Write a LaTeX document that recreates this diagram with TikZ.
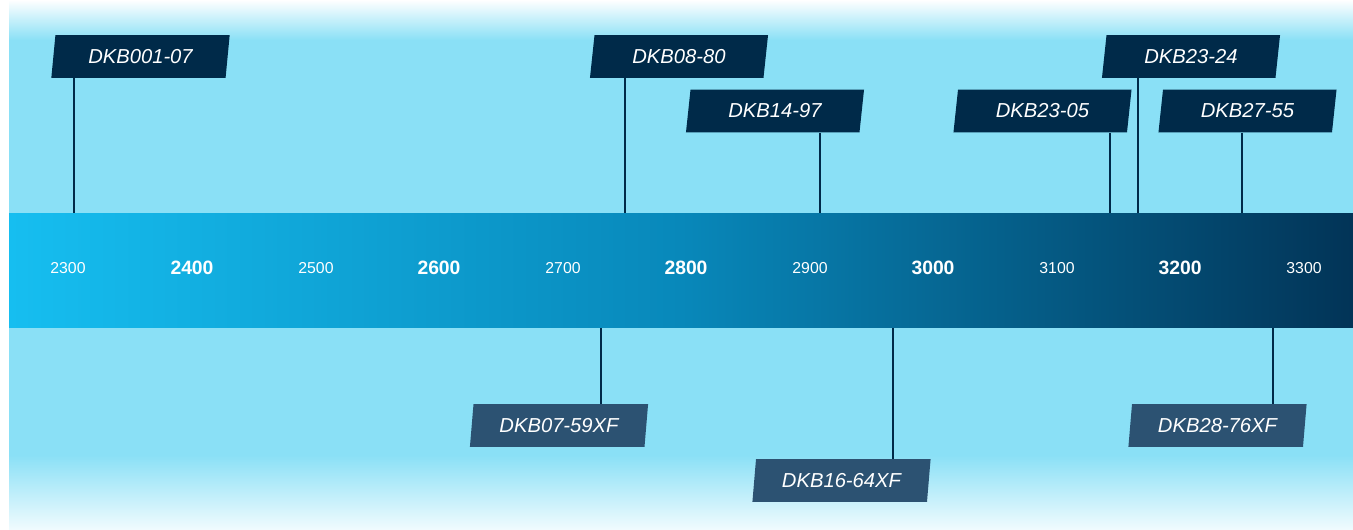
\documentclass[tikz,border=0pt]{standalone}
\usepackage{fontspec}
\setmainfont{Liberation Sans}
\usetikzlibrary{shapes.geometric}
\definecolor{bgblue}{RGB}{138,224,246}
\definecolor{topnavy}{RGB}{0,42,73}
\definecolor{botslate}{RGB}{44,82,114}
\definecolor{bandleft}{RGB}{22,190,240}
\definecolor{bandmid}{RGB}{8,136,186}
\definecolor{bandright}{RGB}{2,52,87}

\begin{document}
\begin{tikzpicture}[x = 0.02cm, y = -0.02cm]
\tikzstyle{TagStyle}=[shape = trapezium,
                      trapezium left angle = 80,
                      trapezium right angle = 100,
                      trapezium stretches = true,
                      minimum width = 3.58cm,
                      minimum height = 0.86cm,
                      inner sep = 0pt,
                      text = white,
                      font = \fontsize{11.5}{13}\selectfont\itshape]
\tikzstyle{TopTag}=[TagStyle, fill = topnavy]
\tikzstyle{LowTag}=[TagStyle, fill = botslate]
\tikzstyle{Stem}=[draw = topnavy, line width = 1.1pt]
\tikzstyle{Minor}=[text = white, font = \fontsize{9}{10}\selectfont]
\tikzstyle{Major}=[text = white, font = \fontsize{11}{12}\selectfont\bfseries]
\useasboundingbox (0,0) rectangle (1353,530);
\fill[white] (0,0) rectangle (1353,530);
\fill[bgblue] (9,40) rectangle (1353,455);
\shade[top color = white, bottom color = bgblue] (9,0) rectangle (1353,40);
\shade[top color = bgblue, bottom color = white!88!bgblue] (9,455) rectangle (1353,530);
\node[minimum width = 26.88cm, minimum height = 2.3cm, inner sep = 0pt, outer sep = 0pt,
      left color = bandleft, right color = bandright, middle color = bandmid] (band) at (681,270.5) {};
\foreach \v/\x in {2300/68, 2500/316, 2700/563, 2900/810, 3100/1057, 3300/1304}
  \node[Minor] (y\v) at (\x,268) {\v};
\foreach \v/\x in {2400/192, 2600/439, 2800/686, 3000/933, 3200/1180}
  \node[Major] (y\v) at (\x,268) {\v};
\node[TopTag] (dkb001) at (140.5,56.5) {DKB001-07};
\node[TopTag] (dkb08) at (679,56.5) {DKB08-80};
\node[TopTag] (dkb14) at (775,111) {DKB14-97};
\node[TopTag] (dkb2305) at (1042.5,111) {DKB23-05};
\node[TopTag] (dkb2324) at (1191,56.5) {DKB23-24};
\node[TopTag] (dkb27) at (1247.5,111) {DKB27-55};
\node[LowTag] (dkb07) at (559,425.5) {DKB07-59XF};
\node[LowTag] (dkb16) at (841.5,480.5) {DKB16-64XF};
\node[LowTag] (dkb28) at (1217.5,425.5) {DKB28-76XF};
\coordinate (s001) at (74,213);
\coordinate (s08) at (625,213);
\coordinate (s14) at (820,213);
\coordinate (s2305) at (1110,213);
\coordinate (s2324) at (1138,213);
\coordinate (s27) at (1242,213);
\coordinate (s07) at (601,328);
\coordinate (s16) at (893,328);
\coordinate (s28) at (1273,328);
\draw[Stem] (dkb001.south -| s001) -- (s001);
\draw[Stem] (dkb08.south -| s08) -- (s08);
\draw[Stem] (dkb14.south -| s14) -- (s14);
\draw[Stem] (dkb2305.south -| s2305) -- (s2305);
\draw[Stem] (dkb2324.south -| s2324) -- (s2324);
\draw[Stem] (dkb27.south -| s27) -- (s27);
\draw[Stem] (dkb07.north -| s07) -- (s07);
\draw[Stem] (dkb16.north -| s16) -- (s16);
\draw[Stem] (dkb28.north -| s28) -- (s28);
\end{tikzpicture}
\end{document}
